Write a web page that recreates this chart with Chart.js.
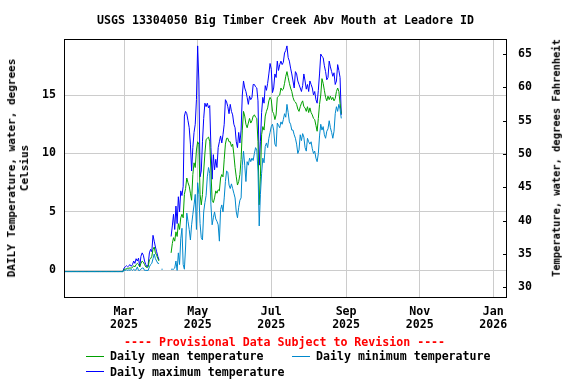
<!DOCTYPE html>
<html>
<head>
<meta charset="utf-8">
<script src="https://cdn.jsdelivr.net/npm/chart.js@4.4.1/dist/chart.umd.min.js"></script>
<style>
  body { margin: 0; background: #fff; }
  #wrap { position: relative; width: 576px; height: 384px; overflow: hidden;
          font-family: "DejaVu Sans Mono", monospace; font-weight: bold; color: #000; }
  #chart { position: absolute; left: 0; top: 0; }
  .txt { position: absolute; white-space: nowrap; line-height: 1; }
  .rot { position: absolute; white-space: nowrap; text-align: center;
         transform: translate(-50%, -50%) rotate(-90deg); }
  .key { position: absolute; height: 1px; width: 18px; }
</style>
</head>
<body>
<div id="wrap">
  <canvas id="chart" width="576" height="384"></canvas>
  <div class="txt" style="left:97px; top:15px; font-size:11.6px;">USGS 13304050 Big Timber Creek Abv Mouth at Leadore ID</div>
  <div class="rot" style="left:18px; top:168px; font-size:11px; line-height:13px;">DAILY Temperature, water, degrees<br>Celsius</div>
  <div class="rot" style="left:556px; top:158px; font-size:10.4px; line-height:1;">Temperature, water, degrees Fahrenheit</div>
  <div class="txt" style="left:124px; top:337px; font-size:11.6px; color:#ff0000;">---- Provisional Data Subject to Revision ----</div>

  <div class="key" style="left:86px; top:356px; background:#00a000;"></div>
  <div class="txt" style="left:110px; top:351px; font-size:11.6px;">Daily mean temperature</div>
  <div class="key" style="left:292px; top:356px; background:#0088cc;"></div>
  <div class="txt" style="left:316px; top:351px; font-size:11.6px;">Daily minimum temperature</div>
  <div class="key" style="left:86px; top:371px; background:#0000ff;"></div>
  <div class="txt" style="left:110px; top:367px; font-size:11.6px;">Daily maximum temperature</div>
</div>

<script>
// day of year of the first value (Jan 1 2025 = 0, so 9 = Jan 10 2025)
const startDay = 9;

const tickDays = [59, 120, 181, 243, 304, 365];
const tickLabels = [["Mar", "2025"], ["May", "2025"], ["Jul", "2025"],
                    ["Sep", "2025"], ["Nov", "2025"], ["Jan", "2026"]];
const celsiusTicks = [0, 5, 10, 15];
const fahrenheitTicks = [30, 35, 40, 45, 50, 55, 60, 65];

// daily values, one per day from startDay, null = no data
const maxTemp = [
  -0.1,-0.1,-0.1,-0.1,-0.1,-0.1,-0.1,-0.1,-0.1,-0.1,
  -0.1,-0.1,-0.1,-0.1,-0.1,-0.1,-0.1,-0.1,-0.1,-0.1,
  -0.1,-0.1,-0.1,-0.1,-0.1,-0.1,-0.1,-0.1,-0.1,-0.1,
  -0.1,-0.1,-0.1,-0.1,-0.1,-0.1,-0.1,-0.1,-0.1,-0.1,
  -0.1,-0.1,-0.1,-0.1,-0.1,-0.1,-0.1,-0.1,-0.1,-0.1,
  0.2,0.3,0.4,0.3,0.4,0.5,0.35,0.5,0.8,0.6,
  1.0,0.8,1.05,0.3,1.2,1.5,1.3,0.8,0.5,0.3,
  0.5,1.5,1.8,1.6,3.0,2.5,2.0,1.6,1.2,0.9,
  null,null,null,null,null,null,null,null,null,
  2.9,3.8,4.8,3.5,5.5,4.0,6.3,5.0,6.8,6.4,
  7.2,13.2,13.6,13.4,12.8,12.2,10.8,8.5,10.5,11.8,
  12.5,14.6,19.2,16.2,8.0,8.5,11.0,13.0,14.3,14.0,
  14.3,13.9,14.1,10.5,7.8,9.9,8.6,9.5,8.8,10.5,
  11.0,11.5,10.9,11.6,12.5,14.6,14.4,14.0,13.4,14.2,
  13.6,13.3,12.5,12.2,11.0,10.5,11.8,10.9,12.0,15.0,
  16.2,15.6,15.3,14.8,14.2,14.9,14.6,14.8,15.9,15.9,
  15.7,15.6,14.5,9.0,11.0,13.5,14.8,14.3,15.8,15.4,
  16.0,16.8,17.7,17.2,15.2,15.6,16.8,16.5,17.9,17.1,
  17.6,17.9,17.6,17.8,18.6,18.8,19.2,18.2,17.9,17.3,
  16.8,16.2,15.6,17.0,16.8,16.2,15.9,15.6,15.3,15.8,
  16.8,16.2,15.5,15.9,15.3,16.2,15.9,15.6,15.0,15.3,
  14.6,14.3,15.4,16.8,18.5,18.3,18.2,17.5,17.0,16.3,
  16.5,17.9,17.4,17.0,16.6,16.9,15.9,16.2,17.6,17.1,
  16.5,13.3
];

const meanTemp = [
  -0.1,-0.1,-0.1,-0.1,-0.1,-0.1,-0.1,-0.1,-0.1,-0.1,
  -0.1,-0.1,-0.1,-0.1,-0.1,-0.1,-0.1,-0.1,-0.1,-0.1,
  -0.1,-0.1,-0.1,-0.1,-0.1,-0.1,-0.1,-0.1,-0.1,-0.1,
  -0.1,-0.1,-0.1,-0.1,-0.1,-0.1,-0.1,-0.1,-0.1,-0.1,
  -0.1,-0.1,-0.1,-0.1,-0.1,-0.1,-0.1,-0.1,-0.1,-0.1,
  0.1,0.1,0.15,0.15,0.2,0.2,0.2,0.25,0.4,0.3,
  0.5,0.6,0.5,0.3,0.6,0.8,0.7,0.5,0.3,0.25,
  0.3,0.9,1.0,1.2,1.8,2.0,1.5,1.3,1.0,0.8,
  null,null,null,null,null,null,null,null,null,
  1.5,2.3,2.8,2.5,3.3,2.9,4.0,3.5,4.5,4.8,
  4.5,6.5,7.0,7.9,7.5,7.2,6.6,6.0,8.2,9.2,
  8.8,10.3,11.0,10.8,6.5,5.6,6.5,8.5,10.0,11.2,
  11.3,11.4,11.0,8.5,6.0,5.8,6.2,6.8,6.6,6.9,
  6.8,7.9,8.2,8.0,9.5,10.8,11.3,11.3,11.0,11.0,
  10.6,10.8,9.9,8.8,8.0,7.3,7.6,8.2,9.5,12.0,
  13.6,13.2,12.5,12.2,12.6,13.0,12.6,12.8,13.2,13.3,
  13.1,13.0,11.0,5.6,8.0,11.6,12.3,12.0,13.2,13.6,
  13.9,14.5,14.8,14.6,13.6,13.4,12.9,13.3,14.8,14.9,
  15.0,15.6,15.4,15.5,16.0,16.6,17.0,16.5,16.0,15.6,
  15.3,14.8,14.5,14.4,14.2,13.8,13.6,14.0,14.3,14.5,
  14.0,13.9,13.6,14.0,13.5,13.9,13.5,13.3,13.0,12.9,
  12.4,11.9,13.0,14.2,15.0,16.4,16.0,15.4,14.8,14.5,
  14.9,14.6,14.9,14.6,14.8,14.5,14.7,15.3,15.6,15.3,
  14.3,13.4
];

const minTemp = [
  -0.1,-0.1,-0.1,-0.1,-0.1,-0.1,-0.1,-0.1,-0.1,-0.1,
  -0.1,-0.1,-0.1,-0.1,-0.1,-0.1,-0.1,-0.1,-0.1,-0.1,
  -0.1,-0.1,-0.1,-0.1,-0.1,-0.1,-0.1,-0.1,-0.1,-0.1,
  -0.1,-0.1,-0.1,-0.1,-0.1,-0.1,-0.1,-0.1,-0.1,-0.1,
  -0.1,-0.1,-0.1,-0.1,-0.1,-0.1,-0.1,-0.1,-0.1,-0.1,
  0.0,0.0,0.05,0.0,0.05,0.0,0.1,0.0,0.1,0.0,
  0.05,0.3,0.0,0.0,0.1,0.2,0.2,0.0,0.0,0.0,
  0.0,0.3,0.5,0.6,1.0,1.4,1.0,0.8,0.6,0.6,
  null,0.1,0.1,null,null,null,null,null,null,
  0.1,0.1,0.1,0.2,0.8,0.0,1.5,0.5,2.7,3.6,
  0.5,0.1,2.0,4.9,4.2,3.5,2.6,3.9,4.8,5.6,
  6.5,3.5,7.5,6.5,4.0,2.8,2.6,5.0,5.8,6.4,
  8.0,8.8,8.3,5.6,3.9,4.5,5.0,4.4,4.2,3.9,
  2.5,5.2,5.6,5.0,6.2,7.6,8.5,8.4,7.3,7.0,
  7.4,7.0,6.6,6.2,5.0,4.5,5.4,6.0,6.2,9.0,
  10.2,9.0,7.6,9.3,9.0,9.6,9.3,9.6,9.4,10.0,
  10.5,10.3,8.5,3.8,6.5,8.3,9.6,9.2,10.6,10.9,
  10.5,11.3,11.8,12.3,12.5,12.0,10.8,10.6,12.6,12.4,
  12.2,12.7,12.5,12.9,13.4,13.1,14.2,13.5,12.7,12.5,
  12.0,12.0,11.6,11.3,10.8,10.0,10.3,11.6,11.1,11.7,
  11.4,10.5,10.2,11.3,11.0,10.8,11.0,10.4,10.0,10.2,
  9.6,9.3,10.0,11.5,12.5,12.0,12.3,11.6,11.3,11.9,
  12.1,12.8,12.2,11.8,11.3,11.9,13.4,14.0,13.6,14.2,
  13.8,13.0
];

function toPoints(values) {
  return values.map((v, i) => ({ x: startDay + i, y: v }));
}

const tickFont = { family: "'DejaVu Sans Mono', monospace", size: 11.6, weight: 'bold', lineHeight: 1.12 };

// black box round the plot and short inward ticks for the Fahrenheit axis
const framePlugin = {
  id: 'frame',
  afterDraw(chart) {
    const ctx = chart.ctx;
    const a = chart.chartArea;
    ctx.save();
    ctx.strokeStyle = '#000';
    ctx.lineWidth = 1;
    ctx.strokeRect(a.left + 0.5, a.top + 0.5, a.right - a.left, a.bottom - a.top);
    const s = chart.scales.y2;
    ctx.beginPath();
    fahrenheitTicks.forEach(v => {
      const y = Math.round(s.getPixelForValue(v)) + 0.5;
      ctx.moveTo(a.right - 3, y);
      ctx.lineTo(a.right + 0.5, y);
    });
    ctx.stroke();
    ctx.restore();
  }
};

const lineStyle = { borderWidth: 1, pointRadius: 0, fill: false, spanGaps: false, tension: 0 };

new Chart(document.getElementById('chart'), {
  type: 'line',
  data: {
    datasets: [
      { label: 'Daily mean temperature', data: toPoints(meanTemp), borderColor: '#00a000', order: 1, ...lineStyle },
      { label: 'Daily minimum temperature', data: toPoints(minTemp), borderColor: '#0088cc', order: 0, ...lineStyle },
      { label: 'Daily maximum temperature', data: toPoints(maxTemp), borderColor: '#0000ff', order: 2, ...lineStyle }
    ]
  },
  options: {
    responsive: false,
    animation: false,
    devicePixelRatio: 1,
    layout: { padding: { top: 39, left: 0, right: 0, bottom: 0 } },
    plugins: { legend: { display: false }, tooltip: { enabled: false } },
    scales: {
      x: {
        type: 'linear',
        position: 'bottom',
        min: 9.25,
        max: 375.5,
        afterBuildTicks: s => { s.ticks = tickDays.map(v => ({ value: v })); },
        afterFit: s => { s.height = 87; },
        ticks: { callback: (v, i) => tickLabels[i], font: tickFont, color: '#000', padding: 8,
                 autoSkip: false, maxRotation: 0 },
        grid: { color: '#cccccc', drawTicks: false },
        border: { display: false }
      },
      y: {
        position: 'left',
        min: -2.275,
        max: 19.79,
        afterBuildTicks: s => { s.ticks = celsiusTicks.map(v => ({ value: v })); },
        afterFit: s => { s.width = 64; },
        ticks: { font: tickFont, color: '#000', padding: 8 },
        grid: { color: '#cccccc', drawTicks: false },
        border: { display: false }
      },
      y2: {
        position: 'right',
        min: 28.56,
        max: 67.25,
        afterBuildTicks: s => { s.ticks = fahrenheitTicks.map(v => ({ value: v })); },
        afterFit: s => { s.width = 70; },
        ticks: { font: tickFont, color: '#000', padding: 12 },
        grid: { drawOnChartArea: false, drawTicks: false },
        border: { display: false }
      }
    }
  },
  plugins: [framePlugin]
});
</script>
</body>
</html>
